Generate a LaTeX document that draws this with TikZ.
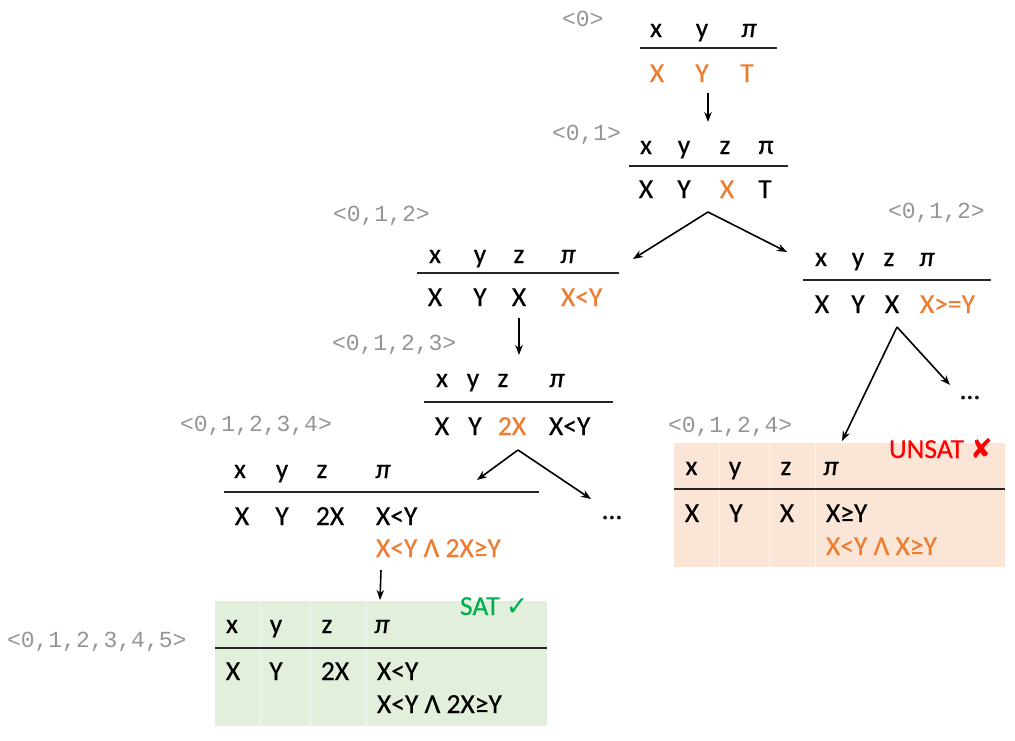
\documentclass[tikz,border=0pt]{standalone}
\usepackage{fontspec}
\setmainfont{Carlito}[FakeBold=0.4]
\newfontfamily\monof{Liberation Mono}
\newfontfamily\symf{DejaVu Sans}
\usetikzlibrary{arrows.meta}
\definecolor{orgc}{HTML}{ED7D31}
\definecolor{graylbl}{HTML}{959595}
\definecolor{satg}{HTML}{00B050}
\definecolor{satfill}{HTML}{E2EFDA}
\definecolor{unsatfill}{HTML}{FBE5D6}
\begin{document}
\begin{tikzpicture}[x=1pt,y=-1pt,
  every node/.style={inner sep=0pt,outer sep=0pt},
  t/.style={anchor=base,font=\fontsize{27.5}{31}\selectfont},
  tl/.style={anchor=base west,font=\fontsize{27.5}{31}\selectfont},
  o/.style={text=orgc},
  lbl/.style={anchor=base west,font=\monof\fontsize{23}{26}\selectfont,text=graylbl},
  rule/.style={line width=1.5pt,draw=black!85},
  sep/.style={draw=white,draw opacity=0.6,line width=0.6pt},
  arr/.style={-{Stealth[length=10pt,width=7.5pt]},line width=1.6pt}]
\useasboundingbox (0,0) rectangle (1015,740);

% ---- table 0
\node[lbl] (l0) at (562,26) {<0>};
\node[t] (a0x) at (656,37) {x};
\node[t] (a0y) at (702,37) {y};
\node[t] (a0p) at (749,37) {\itshape π};
\draw[rule] (640,48) -- (777,48);
\node[t,o] (a0X) at (657,82) {X};
\node[t,o] (a0Y) at (702,82) {Y};
\node[t,o] (a0T) at (747,82) {T};
\coordinate (s0) at (708,93);
\coordinate (e0) at (708,122);
\draw[arr] (s0) -- (e0);

% ---- table 1
\node[lbl] (l1) at (552,140) {<0,1>};
\node[t] (a1x) at (646,154) {x};
\node[t] (a1y) at (684,154) {y};
\node[t] (a1z) at (725,154) {z};
\node[t] (a1p) at (766,154) {π};
\draw[rule] (629,166) -- (788,166);
\node[t] (a1X) at (646,198) {X};
\node[t] (a1Y) at (684,198) {Y};
\node[t,o] (a1Z) at (727,198) {X};
\node[t] (a1T) at (765,198) {T};
\coordinate (s1) at (708,212);
\coordinate (e1l) at (633,259);
\coordinate (e1r) at (787,252);
\draw[arr] (s1) -- (e1l);
\draw[arr] (s1) -- (e1r);

% ---- table 2 left
\node[lbl] (l2) at (333,221) {<0,1,2>};
\node[t] (a2x) at (435,263) {x};
\node[t] (a2y) at (480,263) {y};
\node[t] (a2z) at (519,263) {z};
\node[t] (a2p) at (568,263) {\itshape π};
\draw[rule] (417,273) -- (619,273);
\node[t] (a2X) at (435,306) {X};
\node[t] (a2Y) at (480,306) {Y};
\node[t] (a2Z) at (519,306) {X};
\node[tl,o] (a2P) at (561,306) {X<Y};
\coordinate (s2) at (519,318);
\coordinate (e2) at (519,355);
\draw[arr] (s2) -- (e2);

% ---- table 2 right
\node[lbl] (l2r) at (888,218) {<0,1,2>};
\node[t] (b2x) at (821,266) {x};
\node[t] (b2y) at (858,266) {y};
\node[t] (b2z) at (889,266) {z};
\node[t] (b2p) at (927,266) {\itshape π};
\draw[rule] (803,280) -- (991,280);
\node[t] (b2X) at (822,313) {X};
\node[t] (b2Y) at (858,313) {Y};
\node[t] (b2Z) at (892,313) {X};
\node[tl,o] (b2P) at (920,313) {X>=Y};
\coordinate (s2r) at (897,327);
\coordinate (e2rl) at (842,441);
\coordinate (e2rr) at (950,385);
\draw[arr] (s2r) -- (e2rl);
\draw[arr] (s2r) -- (e2rr);
\node[t] (dots1) at (970,399) {…};

% ---- table 3
\node[lbl] (l3) at (332,350) {<0,1,2,3>};
\node[t] (a3x) at (442,387) {x};
\node[t] (a3y) at (473,387) {y};
\node[t] (a3z) at (503,387) {z};
\node[t] (a3p) at (557,387) {\itshape π};
\draw[rule] (424,402) -- (613,402);
\node[t] (a3X) at (442,435) {X};
\node[t] (a3Y) at (475,435) {Y};
\node[t,o] (a3Z) at (512,435) {2X};
\node[tl] (a3P) at (549,435) {X<Y};
\coordinate (s3) at (518,450);
\coordinate (e3l) at (477,480);
\coordinate (e3r) at (591,499);
\draw[arr] (s3) -- (e3l);
\draw[arr] (s3) -- (e3r);
\node[t] (dots2) at (612,519) {…};

% ---- table 4
\node[lbl] (l4) at (180,431) {<0,1,2,3,4>};
\node[t] (a4x) at (240,478) {x};
\node[t] (a4y) at (282,478) {y};
\node[t] (a4z) at (322,478) {z};
\node[t] (a4p) at (383,478) {\itshape π};
\draw[rule] (224,492) -- (539,492);
\node[t] (a4X) at (242,525) {X};
\node[t] (a4Y) at (282,525) {Y};
\node[t] (a4Z) at (330,525) {2X};
\node[tl] (a4P) at (376,525) {X<Y};
\node[tl,o] (a4Q) at (376,557) {X<Y Λ 2X≥Y};
\coordinate (s4) at (381,570);
\coordinate (e4) at (380,600);
\draw[arr] (s4) -- (e4);

% ---- table 5 (SAT)
\fill[satfill] (215,601) rectangle (547,726);
\draw[sep] (260,601) -- (260,726);
\draw[sep] (310,601) -- (310,726);
\draw[sep] (366,601) -- (366,726);
\draw[rule] (215,648) -- (547,648);
\node[lbl] (l5) at (7,647) {<0,1,2,3,4,5>};
\node[t] (a5x) at (232,633) {x};
\node[t] (a5y) at (276,633) {y};
\node[t] (a5z) at (327,633) {z};
\node[t] (a5p) at (382,633) {\itshape π};
\node[t] (a5X) at (233,680) {X};
\node[t] (a5Y) at (276,680) {Y};
\node[t] (a5Z) at (335,680) {2X};
\node[tl] (a5P) at (377,680) {X<Y};
\node[tl] (a5Q) at (377,713) {X<Y Λ 2X≥Y};
\node[tl,text=satg] (sat) at (460,615) {SAT {\symf\fontsize{27}{30}\selectfont ✓}};

% ---- UNSAT box
\fill[unsatfill] (674,442.5) rectangle (1004.5,567);
\draw[sep] (719,442.5) -- (719,567);
\draw[sep] (769,442.5) -- (769,567);
\draw[sep] (815,442.5) -- (815,567);
\draw[rule] (674,489) -- (1004.5,489);
\node[lbl] (l6) at (668,432) {<0,1,2,4>};
\node[t] (a6x) at (691.5,475) {x};
\node[t] (a6y) at (735,475) {y};
\node[t] (a6z) at (786,475) {z};
\node[t] (a6p) at (831,475) {\itshape π};
\node[t] (a6X) at (692,522) {X};
\node[t] (a6Y) at (736,522) {Y};
\node[t] (a6Z) at (787,522) {X};
\node[tl] (a6P) at (826,522) {X≥Y};
\node[tl,o] (a6Q) at (826,555) {X<Y Λ X≥Y};
\node[tl,text=red] (unsat) at (889,458) {UNSAT {\symf\fontsize{27}{30}\selectfont ✘}};
\end{tikzpicture}
\end{document}
